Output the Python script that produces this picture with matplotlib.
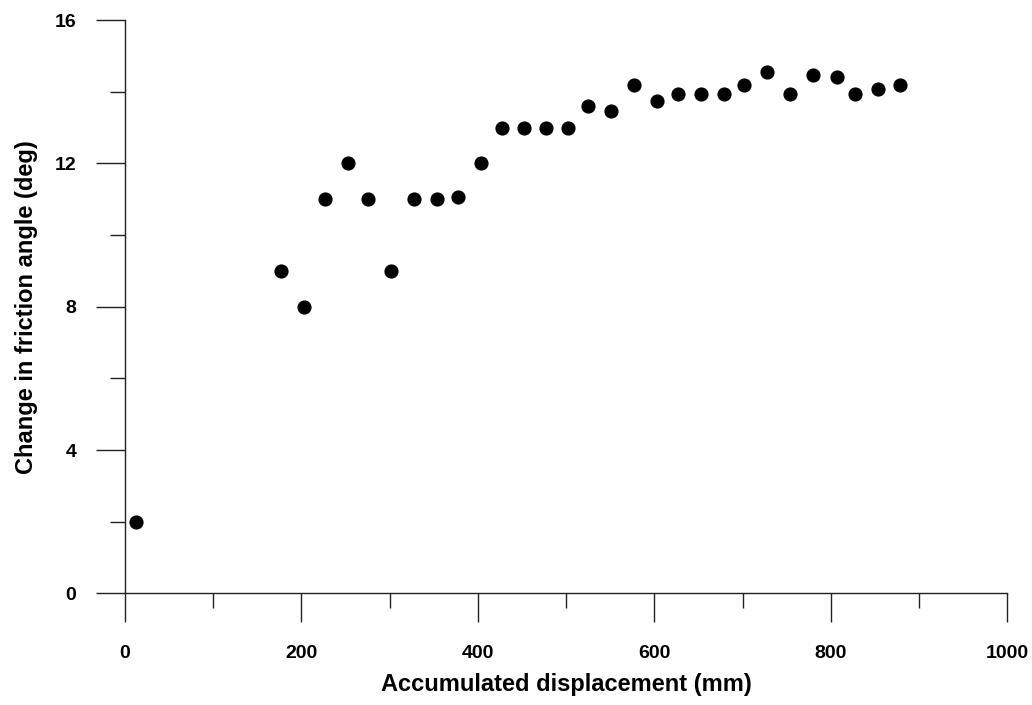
import numpy as np
import matplotlib.pyplot as plt
from matplotlib.ticker import MultipleLocator

plt.rcParams['font.family'] = ['Liberation Sans', 'DejaVu Sans']
plt.rcParams['font.weight'] = 'bold'

# accumulated displacement (mm) and change in friction angle (deg)
displacement = [13, 177, 203, 227, 253, 276, 302, 328, 354, 378, 403,
                427, 452, 477, 502, 525, 551, 577, 603, 627, 653, 679,
                702, 728, 754, 780, 807, 827, 853, 879]
friction_change = [2.0, 9.0, 8.0, 11.0, 12.0, 11.0, 9.0, 11.0, 11.0, 11.05, 12.0,
                   13.0, 13.0, 13.0, 13.0, 13.6, 13.45, 14.2, 13.75, 13.93, 13.93, 13.93,
                   14.2, 14.55, 13.93, 14.47, 14.4, 13.93, 14.07, 14.2]

fig = plt.figure(figsize=(10.32, 7.05), dpi=100)
ax = fig.add_axes([0.1211, 0.1584, 0.8549, 0.8132])

ax.plot(displacement, friction_change, 'o', color='black', markersize=9.2, clip_on=False)

ax.set_xlim(0, 1000)
ax.set_ylim(0, 16)
ax.xaxis.set_major_locator(MultipleLocator(200))
ax.xaxis.set_minor_locator(MultipleLocator(100))
ax.yaxis.set_major_locator(MultipleLocator(4))
ax.yaxis.set_minor_locator(MultipleLocator(2))

for side in ['top', 'right']:
    ax.spines[side].set_visible(False)
for side in ['left', 'bottom']:
    ax.spines[side].set_linewidth(1.0)
    ax.spines[side].set_color('#222222')

ax.tick_params(which='major', direction='out', length=21, width=1.0, color='#222222',
               labelsize=14)
ax.tick_params(which='minor', direction='out', length=11, width=1.0, color='#222222')
ax.tick_params(axis='x', which='major', pad=16)
ax.tick_params(axis='y', which='major', pad=14)

ax.set_xlabel('Accumulated displacement (mm)', fontsize=17, fontweight='bold', labelpad=8)
ax.set_ylabel('Change in friction angle (deg)', fontsize=17, fontweight='bold', labelpad=12)

fig.savefig('out.png', dpi=100)
